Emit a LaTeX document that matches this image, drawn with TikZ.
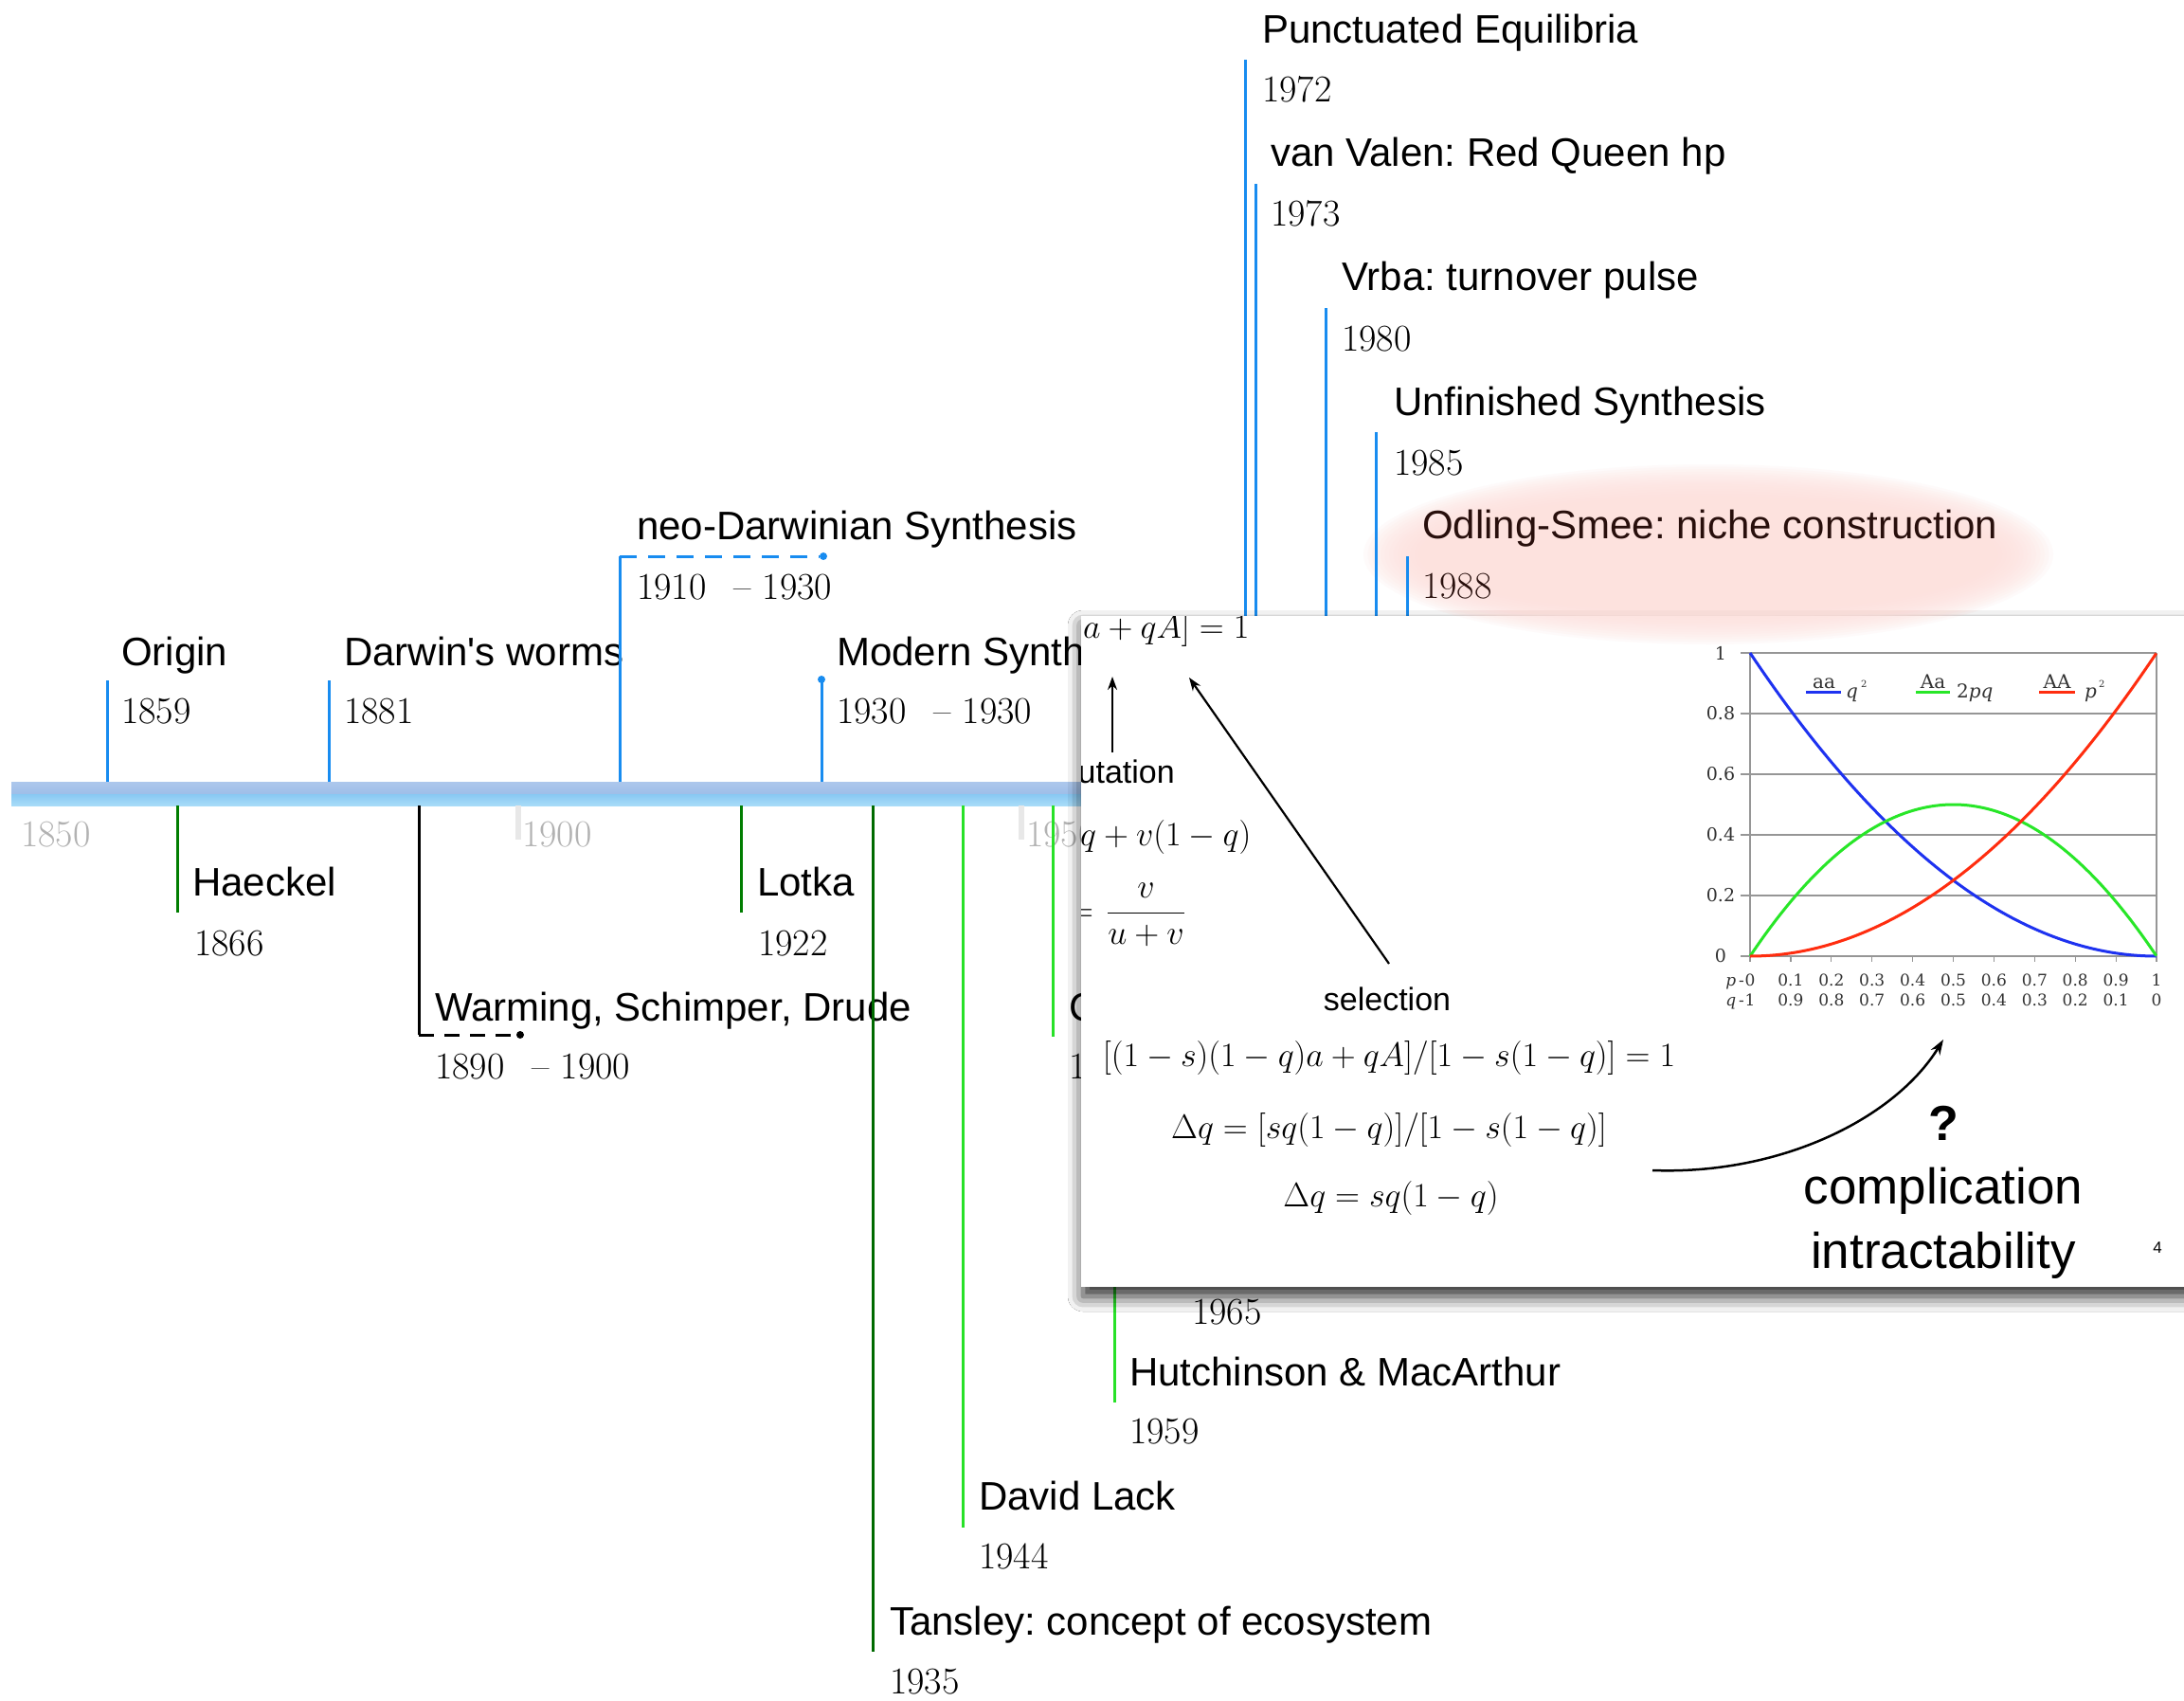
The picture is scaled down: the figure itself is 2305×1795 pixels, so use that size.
\RequirePackage{fix-cm}
\documentclass[tikz,border=0pt]{standalone}
\usepackage{amsmath}
\usepackage{fontspec}
\newfontfamily\helv{Liberation Sans}
\newfontfamily\plotserif{DejaVu Serif}
\usetikzlibrary{arrows.meta,shadows.blur}
\frenchspacing

\definecolor{tickblue}{RGB}{24,140,240}
\definecolor{darkgreen}{RGB}{0,125,0}
\definecolor{brightgreen}{RGB}{40,225,40}
\definecolor{decadegray}{RGB}{178,178,178}
\definecolor{tickgray}{RGB}{232,232,232}
\definecolor{nichepink}{RGB}{253,226,222}
\definecolor{nichetext}{RGB}{40,15,12}
\definecolor{barTopA}{RGB}{172,199,236}
\definecolor{barTopB}{RGB}{158,190,232}
\definecolor{barBotA}{RGB}{136,200,243}
\definecolor{barBotB}{RGB}{168,220,248}
\definecolor{curveblue}{RGB}{30,50,240}
\definecolor{curvegreen}{RGB}{40,230,40}
\definecolor{curvered}{RGB}{255,45,15}
\definecolor{gridgray}{RGB}{150,150,150}
\definecolor{plottext}{RGB}{50,50,50}

\newcommand{\labelfont}{\helv\fontsize{42}{50}\selectfont}
\newcommand{\yearfont}{\fontsize{40}{48}\selectfont}
\newcommand{\panelsans}{\helv\fontsize{34}{40}\selectfont}
\newcommand{\eqfont}{\fontsize{36}{42}\selectfont}
\newcommand{\yrange}[2]{#1\hspace{0.72em}\textendash\hspace{0.3em}#2}
% soft pink halo behind the Odling-Smee entry
\newcommand{\nicheglow}{%
  \foreach \k in {0,...,13}{%
    \fill[nichepink, fill opacity=0.15] (1803,585)
      ellipse [x radius={364-4.5*\k}, y radius={95-2.6*\k}];}}

\begin{document}
\begin{tikzpicture}[x=1pt,y=-1pt,
  evname/.style={font=\labelfont, anchor=base west, inner sep=0pt},
  evyear/.style={font=\yearfont, anchor=base west, inner sep=0pt},
  decade/.style={font=\yearfont, text=decadegray, anchor=base west, inner sep=0pt},
  uptick/.style={draw=tickblue, line width=3pt},
  lowtick/.style={line width=3pt},
  enddot/.style={circle, fill, inner sep=0pt, minimum size=8pt},
  eq/.style={font=\eqfont, inner sep=0pt},
  psans/.style={font=\panelsans, inner sep=0pt},
  plab/.style={font=\plotserif\fontsize{19}{19}\selectfont, text=plottext, inner sep=0pt},
  xlab/.style={font=\plotserif\fontsize{17}{17}\selectfont, text=plottext, anchor=base, inner sep=0pt},
  leg/.style={font=\plotserif\fontsize{20}{20}\selectfont, text=plottext, inner sep=0pt},
  legsup/.style={font=\plotserif\fontsize{10}{10}\selectfont, text=plottext, anchor=base west, inner sep=0pt},
  gridline/.style={draw=gridgray, line width=1.2pt},
  curve/.style={line width=3pt, line join=round},
  pointer/.style={line width=2.2pt, -{Stealth[length=14pt,width=10pt]}}
]
\useasboundingbox (0,0) rectangle (2305,1795);
\fill[white] (0,0) rectangle (2305,1795);

\nicheglow

% ---------------- timeline bar ----------------
\coordinate (barTop) at (0,825);
\coordinate (barBot) at (0,850);
\shade[top color=barTopA, bottom color=barTopB] (12,825) rectangle (1400,838);
\shade[top color=barBotA, bottom color=barBotB] (12,838) rectangle (1400,850);

% decade marks
\fill[tickgray] (544,850) rectangle (550,886);
\fill[tickgray] (1075,850) rectangle (1081,886);
\node[decade] (d1850) at (22,893) {1850};
\node[decade] (d1900) at (551,893) {1900};
\node[decade] (d1950) at (1083,893) {1950};

% ---------------- events above the bar ----------------
\node[evname] (nOrigin) at (128,702) {Origin};
\node[evyear] (yOrigin) at (128,763) {1859};
\node[evname] (nWorms) at (363,702) {Darwin\textquotesingle s worms};
\node[evyear] (yWorms) at (363,763) {1881};
\node[evname] (nNeo) at (672,569) {neo-Darwinian Synthesis};
\node[evyear] (yNeo) at (672,632) {\yrange{1910}{1930}};
\node[evname] (nModern) at (883,702) {Modern Synthesis};
\node[evyear] (yModern) at (883,763) {\yrange{1930}{1930}};
\node[evname] (nPunct) at (1332,46) {Punctuated Equilibria};
\node[evyear] (yPunct) at (1332,108) {1972};
\node[evname] (nValen) at (1341,176) {van Valen: Red Queen hp};
\node[evyear] (yValen) at (1341,239) {1973};
\node[evname] (nVrba) at (1416,307) {Vrba: turnover pulse};
\node[evyear] (yVrba) at (1416,370) {1980};
\node[evname] (nUnfin) at (1471,438) {Unfinished Synthesis};
\node[evyear] (yUnfin) at (1471,501) {1985};
\node[evname, text=nichetext] (nOdling) at (1501,568) {Odling-Smee: niche construction};
\node[evyear, text=nichetext] (yOdling) at (1501,631) {1988};

% ---------------- events below the bar ----------------
\node[evname] (nHaeckel) at (203,945) {Haeckel};
\node[evyear] (yHaeckel) at (205,1008) {1866};
\node[evname] (nWarming) at (459,1077) {Warming, Schimper, Drude};
\node[evyear] (yWarming) at (459,1138) {\yrange{1890}{1900}};
\node[evname] (nLotka) at (799,945) {Lotka};
\node[evyear] (yLotka) at (800,1008) {1922};
\node[evname] (nTansley) at (939,1725) {Tansley: concept of ecosystem};
\node[evyear] (yTansley) at (939,1787) {1935};
\node[evname] (nLack) at (1033,1593) {David Lack};
\node[evyear] (yLack) at (1033,1655) {1944};
\node[evname] (nC) at (1128,1077) {C};
\node[evyear] (yC) at (1128,1138) {1953};
\node[evname] (nHutch) at (1192,1462) {Hutchinson \& MacArthur};
\node[evyear] (yHutch) at (1192,1523) {1959};
\node[evyear] (y1965) at (1258,1397) {1965};

% ---------------- ticks ----------------
\coordinate (kOrigin) at (113,718);
\coordinate (kWorms) at (347,718);
\coordinate (kNeo) at (654,587);
\coordinate (kPunct) at (1314,63);
\coordinate (kValen) at (1325,194);
\coordinate (kVrba) at (1399,325);
\coordinate (kUnfin) at (1452,456);
\coordinate (kOdling) at (1485,587);
\node[enddot, tickblue] (kModern) at (867,717) {};
\node[enddot, tickblue] (neoEnd) at (869,587) {};

\draw[uptick] (kOrigin |- barTop) -- (kOrigin);
\draw[uptick] (kWorms |- barTop) -- (kWorms);
\draw[uptick] (kNeo |- barTop) -- (kNeo);
\draw[uptick, dash pattern=on 18pt off 12pt] (kNeo) -- (neoEnd);
\draw[uptick] (kModern |- barTop) -- (kModern.center);
\draw[uptick] (kPunct |- barTop) -- (kPunct);
\draw[uptick] (kValen |- barTop) -- (kValen);
\draw[uptick] (kVrba |- barTop) -- (kVrba);
\draw[uptick] (kUnfin |- barTop) -- (kUnfin);
\draw[uptick] (kOdling |- barTop) -- (kOdling);

\coordinate (kHaeckel) at (187,963);
\coordinate (kWarming) at (442,1092);
\coordinate (kLotka) at (782,963);
\coordinate (kTansley) at (921,1743);
\coordinate (kLack) at (1016,1612);
\coordinate (kC) at (1111,1094);
\coordinate (kHutch) at (1176,1480);
\coordinate (k1965) at (1241,1345);
\node[enddot, black] (warmEnd) at (549,1092) {};

\draw[lowtick, darkgreen] (kHaeckel |- barBot) -- (kHaeckel);
\draw[lowtick, black] (kWarming |- barBot) -- (kWarming);
\draw[lowtick, black, dash pattern=on 16pt off 11pt] (kWarming) -- (warmEnd);
\draw[lowtick, darkgreen] (kLotka |- barBot) -- (kLotka);
\draw[lowtick, darkgreen!85!black] (kTansley |- barBot) -- (kTansley);
\draw[lowtick, brightgreen] (kLack |- barBot) -- (kLack);
\draw[lowtick, brightgreen] (kC |- barBot) -- (kC);
\draw[lowtick, brightgreen] (kHutch |- barBot) -- (kHutch);
\draw[lowtick, brightgreen] (k1965 |- barBot) -- (k1965);

% ---------------- overlaid slide ----------------
\fill[white, blur shadow={shadow xshift=2pt, shadow yshift=-10pt,
      shadow blur radius=16pt, shadow opacity=85}]
  (1141,650) rectangle (2340,1358);

\begin{scope}
\clip (1141,650) rectangle (2305,1358);

% equations
\node[eq, anchor=base west] (eqTop) at (1143,673) {$a + qA] = 1$};
\node[psans, anchor=base east] (mutLab) at (1240,826) {mutation};
\node[eq, anchor=base west] (eqMut) at (1140,892) {$q + v(1-q)$};
\node[eq, anchor=base east] (eqEq) at (1251,972) {$\hat q = \hspace{4pt}\dfrac{v}{u+v}$};
\node[psans, anchor=base] (selLab) at (1464,1066) {selection};
\node[eq, anchor=base] (eqSel) at (1466,1125) {$[(1-s)(1-q)a + qA]/[1-s(1-q)] = 1$};
\node[eq, anchor=base] (eqDelta) at (1466,1201) {$\Delta q = [sq(1-q)]/[1-s(1-q)]$};
\node[eq, anchor=base] (eqApprox) at (1468,1273) {$\Delta q = sq(1-q)$};

\coordinate (mutTail) at (1174,794);
\coordinate (mutHead) at (1174,714);
\draw[pointer] (mutTail) -- (mutHead);
\coordinate (selTail) at (1466,1017);
\coordinate (selHead) at (1255,715);
\draw[pointer] (selTail) -- (selHead);

% genotype frequency chart
\foreach \yy/\lab [count=\j] in {689/1, 753/0.8, 817/0.6, 881/0.4, 945/0.2, 1009/0}{
  \draw[gridline] (1837,\yy) -- (2276,\yy);
  \node[plab] (ylab\j) at (1816,\yy) {\lab};
}
\draw[gridline] (1847,689) -- (1847,1015);
\draw[gridline] (2276,689) -- (2276,1015);
\foreach \i in {1,...,9}{
  \draw[gridline] ({1847+42.9*\i},1009) -- ({1847+42.9*\i},1015);
}
\draw[curve, curveblue] plot[domain=0:1, samples=80, variable=\t]
  ({1847+429*\t},{1009-320*(1-\t)*(1-\t)});
\draw[curve, curvegreen] plot[domain=0:1, samples=80, variable=\t]
  ({1847+429*\t},{1009-640*\t*(1-\t)});
\draw[curve, curvered] plot[domain=0:1, samples=80, variable=\t]
  ({1847+429*\t},{1009-320*\t*\t});

\node[xlab] (p0) at (1847,1040) {0};
\node[xlab, anchor=base east] (pname) at (1841,1040) {\textit{p}\,-};
\node[xlab] (q0) at (1847,1061) {1};
\node[xlab, anchor=base east] (qname) at (1841,1061) {\textit{q}\,-};
\foreach \i/\pv/\qv in {1/0.1/0.9,2/0.2/0.8,3/0.3/0.7,4/0.4/0.6,5/0.5/0.5,
                        6/0.6/0.4,7/0.7/0.3,8/0.8/0.2,9/0.9/0.1,10/1/0}{
  \node[xlab] (p\i) at ({1847+42.9*\i},1040) {\pv};
  \node[xlab] (q\i) at ({1847+42.9*\i},1061) {\qv};
}

% legend
\draw[curve, curveblue] (1906,730) -- (1943,730);
\node[leg, anchor=base] (legaa) at (1925,726) {aa};
\node[leg, anchor=base west] (legq) at (1948,736) {\textit{q}};
\node[legsup] (legq2) at (1964,725) {2};
\draw[curve, curvegreen] (2022,730) -- (2058,730);
\node[leg, anchor=base] (legAa) at (2040,726) {Aa};
\node[leg, anchor=base west] (leg2pq) at (2065,736) {2\textit{pq}};
\draw[curve, curvered] (2152,730) -- (2190,730);
\node[leg, anchor=base] (legAA) at (2171,726) {AA};
\node[leg, anchor=base west] (legp) at (2200,736) {\textit{p}};
\node[legsup] (legp2) at (2215,725) {2};

% closing remark
\coordinate (curlTail) at (1744,1235);
\coordinate (curlHead) at (2051,1097);
\draw[line width=2.5pt, -{Stealth[length=16pt,width=11pt]}]
  (curlTail) .. controls (1880,1240) and (2000,1180) .. (curlHead);
\node[font=\helv\bfseries\fontsize{52}{52}\selectfont, anchor=base, inner sep=0pt]
  (qmark) at (2051,1203) {?};
\node[font=\helv\fontsize{53}{60}\selectfont, anchor=base, inner sep=0pt]
  (compl) at (2051,1270) {complication};
\node[font=\helv\fontsize{53}{60}\selectfont, anchor=base, inner sep=0pt]
  (intract) at (2051,1338) {intractability};
\node[font=\helv\fontsize{17}{17}\selectfont, anchor=base, inner sep=0pt]
  (pagenum) at (2277,1322) {4};
\end{scope}

% halo spilling over the top of the slide
\begin{scope}
\clip (1141,644) rectangle (2305,700);
\nicheglow
\end{scope}
\end{tikzpicture}
\end{document}
